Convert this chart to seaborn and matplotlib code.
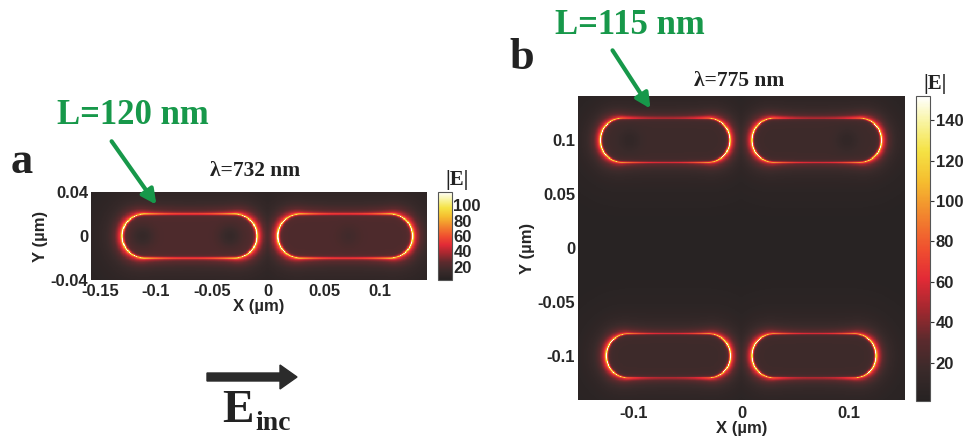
import numpy as np
import matplotlib
matplotlib.use("Agg")
import matplotlib.pyplot as plt
import seaborn as sns
from matplotlib.colors import LinearSegmentedColormap
from matplotlib.patches import FancyArrow

# ---- panel a: L=120 nm rod dimer at 732 nm ----
a_xlim = (-0.158, 0.142)
a_ylim = (-0.040, 0.040)
a_rod_cx = [-0.070, 0.069]
a_rod_cy = [0.0, 0.0]
a_rod_len = [0.120, 0.120]
a_rod_wid = [0.040, 0.040]
a_end_peak = [85, 82]
a_side_peak = [28, 26]
a_inside = [21, 21]
a_spot_x = [-0.112, -0.034, 0.072]
a_spot_y = [0.0, 0.0, 0.0]
a_spot_depth = [9, 9, 4]
a_vrange = (3, 117)
a_xticks = [-0.15, -0.1, -0.05, 0, 0.05, 0.1]
a_yticks = [0.04, 0, -0.04]
a_cticks = [20, 40, 60, 80, 100]

# ---- panel b: L=115 nm rod quadrumer at 775 nm ----
b_xlim = (-0.152, 0.152)
b_ylim = (-0.141, 0.141)
b_rod_cx = [-0.071, 0.070, -0.068, 0.0675]
b_rod_cy = [0.100, 0.100, -0.100, -0.100]
b_rod_len = [0.120, 0.120, 0.115, 0.115]
b_rod_wid = [0.041, 0.041, 0.041, 0.041]
b_end_peak = [110, 110, 110, 110]
b_side_peak = [32, 32, 32, 32]
b_inside = [18, 18, 18, 18]
b_spot_x = [-0.104, 0.098]
b_spot_y = [0.100, 0.100]
b_spot_depth = [8, 8]
b_vrange = (1, 152)
b_xticks = [-0.1, 0, 0.1]
b_yticks = [0.1, 0.05, 0, -0.05, -0.1]
b_cticks = [20, 40, 60, 80, 100, 120, 140]

cmap = LinearSegmentedColormap.from_list(
    "field",
    [(0.00, "#262222"), (0.10, "#3a2a2a"), (0.20, "#5c2a2d"),
     (0.30, "#a3282f"), (0.40, "#e22a36"), (0.50, "#f0502f"),
     (0.62, "#f28a2e"), (0.72, "#f5bd2f"), (0.82, "#f5e244"),
     (0.91, "#f8f39a"), (1.00, "#ffffff")])

STEP = 0.0005


def field_map(xlim, ylim, cx, cy, L, W, endp, sidep, inside, sx, sy, sdepth, bg):
    xs = np.arange(xlim[0] + STEP / 2, xlim[1], STEP)
    ys = np.arange(ylim[1] - STEP / 2, ylim[0], -STEP)
    X, Y = np.meshgrid(xs, ys)
    F = np.full(X.shape, float(bg))
    for i in range(len(cx)):
        r = W[i] / 2
        h = L[i] / 2 - r
        px = np.clip(X - cx[i], -h, h)
        d = np.hypot(X - cx[i] - px, Y - cy[i]) - r
        along = np.clip(np.abs(X - cx[i]) / (L[i] / 2), 0, 1)
        peak = sidep[i] + (endp[i] - sidep[i]) * along ** 2.5
        out = np.maximum(d, 0)
        rim = peak * np.exp(-np.abs(d) / 0.0007)
        outer = 0.7 * peak * np.exp(-out / 0.0048) + 13 * np.exp(-out / 0.022) + bg
        inner = inside[i] + 0.3 * peak * np.exp(np.minimum(d, 0) / 0.002)
        val = rim + np.where(d >= 0, outer, inner)
        F = np.maximum(F, val)
    for x0, y0, dep in zip(sx, sy, sdepth):
        F -= dep * np.exp(-((X - x0) ** 2 + (Y - y0) ** 2) / (2 * 0.007 ** 2))
    return F, xs, ys


sns.set_theme(style="white")
plt.rcParams["font.family"] = ["Liberation Sans", "DejaVu Sans"]

W_PX, H_PX = 963, 437
fig = plt.figure(figsize=(W_PX / 100, H_PX / 100), dpi=100)


def box(l, t, r, b):
    return [l / W_PX, 1 - b / H_PX, (r - l) / W_PX, (b - t) / H_PX]


def draw_panel(ax, cax, F, xs, ys, vr, xticks, yticks, cticks, ctick_len,
               xpad, xlabelpad):
    sns.heatmap(F, ax=ax, cbar_ax=cax, cmap=cmap, vmin=vr[0], vmax=vr[1],
                xticklabels=False, yticklabels=False, rasterized=True,
                cbar_kws={"ticks": cticks})
    x0, y1 = xs[0] - STEP / 2, ys[0] + STEP / 2
    ax.set_xticks([(v - x0) / STEP for v in xticks])
    ax.set_xticklabels([f"{v:g}" for v in xticks])
    ax.set_yticks([(y1 - v) / STEP for v in yticks])
    ax.set_yticklabels([f"{v:g}" for v in yticks], rotation=0)
    ax.tick_params(axis="y", length=0, pad=2, labelsize=12)
    ax.tick_params(axis="x", length=0, pad=xpad, labelsize=12)
    for t in ax.get_xticklabels() + ax.get_yticklabels():
        t.set_fontweight("bold")
    ax.set_xlabel("X (\u00b5m)", fontsize=12, fontweight="bold", labelpad=xlabelpad)
    ax.set_ylabel("Y (\u00b5m)", fontsize=12, fontweight="bold", labelpad=2)
    cb = ax.collections[0].colorbar
    cb.outline.set_edgecolor("#555555")
    cb.outline.set_linewidth(0.8)
    cb.ax.tick_params(length=ctick_len, width=0.8, color="#333333", pad=1,
                      labelsize=12, direction="out")
    for t in cb.ax.get_yticklabels():
        t.set_fontweight("bold")


Fa, xa, ya = field_map(a_xlim, a_ylim, a_rod_cx, a_rod_cy, a_rod_len, a_rod_wid,
                       a_end_peak, a_side_peak, a_inside,
                       a_spot_x, a_spot_y, a_spot_depth, bg=4)
Fb, xb, yb = field_map(b_xlim, b_ylim, b_rod_cx, b_rod_cy, b_rod_len, b_rod_wid,
                       b_end_peak, b_side_peak, b_inside,
                       b_spot_x, b_spot_y, b_spot_depth, bg=2)

ax_a = fig.add_axes(box(91, 192, 427, 280))
cax_a = fig.add_axes(box(438, 192, 452, 280))
draw_panel(ax_a, cax_a, Fa, xa, ya, a_vrange, a_xticks, a_yticks, a_cticks, 0,
           xpad=3, xlabelpad=0)

ax_b = fig.add_axes(box(578, 96, 905, 400))
cax_b = fig.add_axes(box(916, 96, 930, 401))
draw_panel(ax_b, cax_b, Fb, xb, yb, b_vrange, b_xticks, b_yticks, b_cticks, 3,
           xpad=4, xlabelpad=0)

# annotation layer in pixel coordinates
ov = fig.add_axes([0, 0, 1, 1])
ov.set_xlim(0, W_PX)
ov.set_ylim(H_PX, 0)
ov.axis("off")
ov.patch.set_visible(False)

serif = ["Liberation Serif", "DejaVu Serif"]
green = "#17984a"

ov.text(22, 162, "a", family=serif, weight="bold", fontsize=32,
        ha="center", va="center", color="#222222")
ov.text(522, 58, "b", family=serif, weight="bold", fontsize=32,
        ha="center", va="center", color="#222222")
ov.text(133, 115, "L=120 nm", family=serif, weight="bold", fontsize=25,
        ha="center", va="center", color=green)
ov.text(630, 26, "L=115 nm", family=serif, weight="bold", fontsize=25,
        ha="center", va="center", color=green)
ov.annotate("", xy=(158, 207), xytext=(110, 139),
            arrowprops=dict(arrowstyle="-|>", color=green, lw=3, mutation_scale=22))
ov.annotate("", xy=(652, 111), xytext=(611, 48),
            arrowprops=dict(arrowstyle="-|>", color=green, lw=3, mutation_scale=22))

ov.text(255, 171, "\u03bb=732 nm", family=serif, weight="bold", fontsize=15.5,
        ha="center", va="center", color="#222222")
ov.text(739, 81, "\u03bb=775 nm", family=serif, weight="bold", fontsize=15.5,
        ha="center", va="center", color="#222222")
ov.text(457, 180, "|E|", family=serif, weight="bold", fontsize=15,
        ha="center", va="center", color="#222222")
ov.text(935, 84, "|E|", family=serif, weight="bold", fontsize=15,
        ha="center", va="center", color="#222222")

# incident field polarisation
ov.add_patch(FancyArrow(207, 377, 90, 0, width=8, head_width=24, head_length=17,
                        length_includes_head=True, color="#2b2b2b"))
ov.text(238, 411, "E", family=serif, weight="bold", fontsize=34,
        ha="center", va="center", color="#222222")
ov.text(273, 423, "inc", family=serif, weight="bold", fontsize=20,
        ha="center", va="center", color="#222222")

fig.savefig("out.png", dpi=100)
